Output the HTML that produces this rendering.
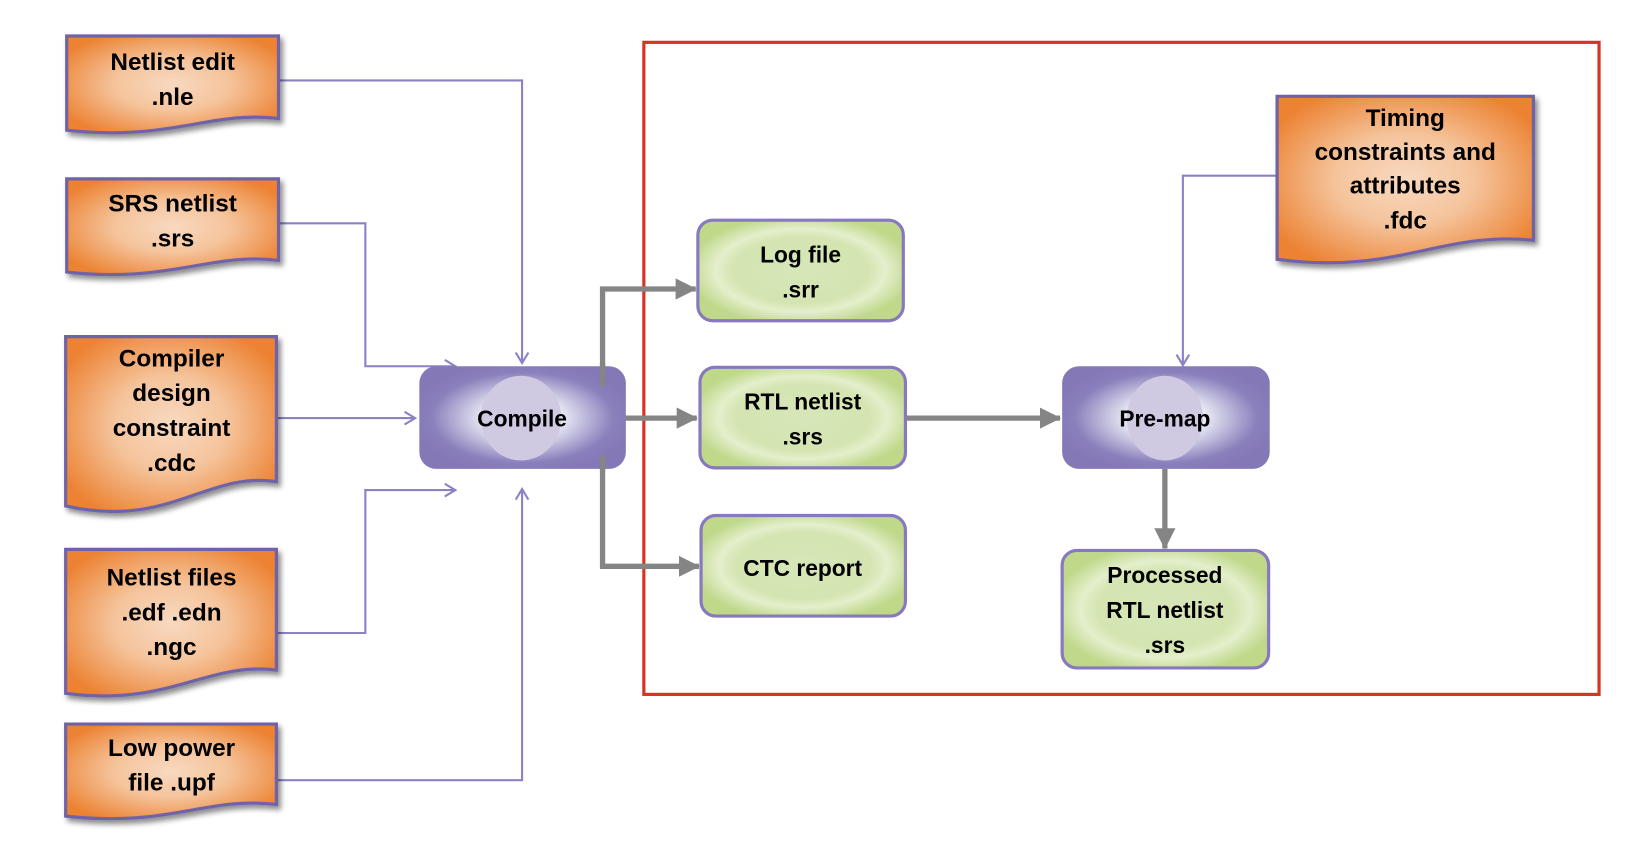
<!DOCTYPE html>
<html><head><meta charset="utf-8"><style>
html,body{margin:0;padding:0;background:#fff;}
svg{display:block;}
text{font-family:"Liberation Sans",sans-serif;font-weight:bold;text-anchor:middle;fill:#000;}
.n{font-size:23px;}
.g{font-size:21.5px;}
</style></head><body>
<svg width="1652" height="850" viewBox="0 0 1560 803" preserveAspectRatio="none" xmlns="http://www.w3.org/2000/svg">
<defs>
<radialGradient id="org" cx="50%" cy="50%" r="60%">
<stop offset="0" stop-color="#f8d9c0"/><stop offset="0.45" stop-color="#f5c49c"/><stop offset="1" stop-color="#ec8232"/>
</radialGradient>
<radialGradient id="pur" cx="50%" cy="50%" r="55%">
<stop offset="0" stop-color="#ffffff"/><stop offset="0.35" stop-color="#e8e8f4"/><stop offset="0.8" stop-color="#8a80bc"/><stop offset="1" stop-color="#8478b6"/>
</radialGradient>
<radialGradient id="grn" cx="50%" cy="50%" r="55%">
<stop offset="0" stop-color="#d6e6b8"/><stop offset="0.6" stop-color="#d4e5b2"/><stop offset="0.75" stop-color="#e4efcc"/><stop offset="1" stop-color="#bfd88a"/>
</radialGradient>
<filter id="sh" x="-10%" y="-10%" width="130%" height="130%"><feGaussianBlur in="SourceAlpha" stdDeviation="2.5"/><feOffset dx="3" dy="4"/><feComponentTransfer><feFuncA type="linear" slope="0.45"/></feComponentTransfer><feMerge><feMergeNode/><feMergeNode in="SourceGraphic"/></feMerge></filter>
<marker id="pa" markerWidth="14" markerHeight="14" refX="12" refY="7" orient="auto" markerUnits="userSpaceOnUse"><path d="M2,1 L12,7 L2,13" fill="none" stroke="#8b82c6" stroke-width="2"/></marker>
<marker id="ga" markerWidth="22" markerHeight="22" refX="19" refY="11" orient="auto" markerUnits="userSpaceOnUse"><path d="M0,1 L20,11 L0,21 Z" fill="#858585"/></marker>
</defs>

<rect x="608" y="40" width="902" height="616" fill="none" stroke="#d83222" stroke-width="3"/>

<g fill="none" stroke="#8b82c6" stroke-width="2">
<path d="M262,76 H493 V343" marker-end="url(#pa)"/>
<path d="M262,211 H345 V346 H430" marker-end="url(#pa)"/>
<path d="M258,395 H392" marker-end="url(#pa)"/>
<path d="M262,598 H345 V463 H430" marker-end="url(#pa)"/>
<path d="M262,737 H493 V462" marker-end="url(#pa)"/>
<path d="M1210,166 H1117 V345" marker-end="url(#pa)"/>
</g>

<g filter="url(#sh)" stroke="#6f62a6" stroke-width="3" fill="url(#org)">
<path d="M63,34 H263 V112 C200,104 160,134 63,123 Z"/>
<path d="M63,169 H263 V246 C200,238 160,268 63,257 Z"/>
<path d="M62,318 H261 V455 C195,445 160,500 62,478 Z"/>
<path d="M62,519 H261 V633 C195,625 160,668 62,655 Z"/>
<path d="M62,684 H261 V760 C195,752 160,782 62,771 Z"/>
<path d="M1206,91 H1448 V227 C1360,218 1320,260 1206,245 Z"/>
</g>
<g class="n">
<text x="163" y="66">Netlist edit</text><text x="163" y="99">.nle</text>
<text x="163" y="200">SRS netlist</text><text x="163" y="233">.srs</text>
<text x="162" y="346">Compiler</text><text x="162" y="379">design</text><text x="162" y="412">constraint</text><text x="162" y="445">.cdc</text>
<text x="162" y="553">Netlist files</text><text x="162" y="586">.edf .edn</text><text x="162" y="619">.ngc</text>
<text x="162" y="714">Low power</text><text x="162" y="747">file .upf</text>
<text x="1327" y="119">Timing</text><text x="1327" y="151">constraints and</text><text x="1327" y="183">attributes</text><text x="1327" y="216">.fdc</text>
</g>

<g fill="none" stroke="#858585" stroke-width="5">
<path d="M569,365 V273 H657" marker-end="url(#ga)"/>
<path d="M569,430 V535 H660" marker-end="url(#ga)"/>
<path d="M589,395 H658" marker-end="url(#ga)"/>
<path d="M856,395 H1001" marker-end="url(#ga)"/>
<path d="M1100,443 V518" marker-end="url(#ga)"/>
</g>

<rect x="396" y="346" width="195" height="97" rx="16" fill="url(#pur)"/>
<ellipse cx="492" cy="395" rx="38" ry="40" fill="#d0c9e2"/>
<rect x="1003" y="346" width="196" height="97" rx="16" fill="url(#pur)"/>
<ellipse cx="1100" cy="395" rx="36" ry="40" fill="#d0c9e2"/>
<g class="g">
<text x="493" y="403">Compile</text>
<text x="1100" y="403">Pre-map</text>
</g>
<g stroke="#858585" stroke-width="5"><path d="M569,365 V343"/><path d="M569,430 V445"/></g>

<g fill="url(#grn)" stroke="#8878c0" stroke-width="3">
<rect x="659" y="208" width="194" height="95" rx="14"/>
<rect x="661" y="347" width="194" height="95" rx="14"/>
<rect x="662" y="487" width="193" height="95" rx="14"/>
<rect x="1003" y="520" width="195" height="111" rx="14"/>
</g>
<g class="g">
<text x="756" y="248">Log file</text><text x="756" y="281">.srr</text>
<text x="758" y="387">RTL netlist</text><text x="758" y="420">.srs</text>
<text x="758" y="544">CTC report</text>
<text x="1100" y="551">Processed</text><text x="1100" y="584">RTL netlist</text><text x="1100" y="617">.srs</text>
</g>
</svg>
</body></html>
